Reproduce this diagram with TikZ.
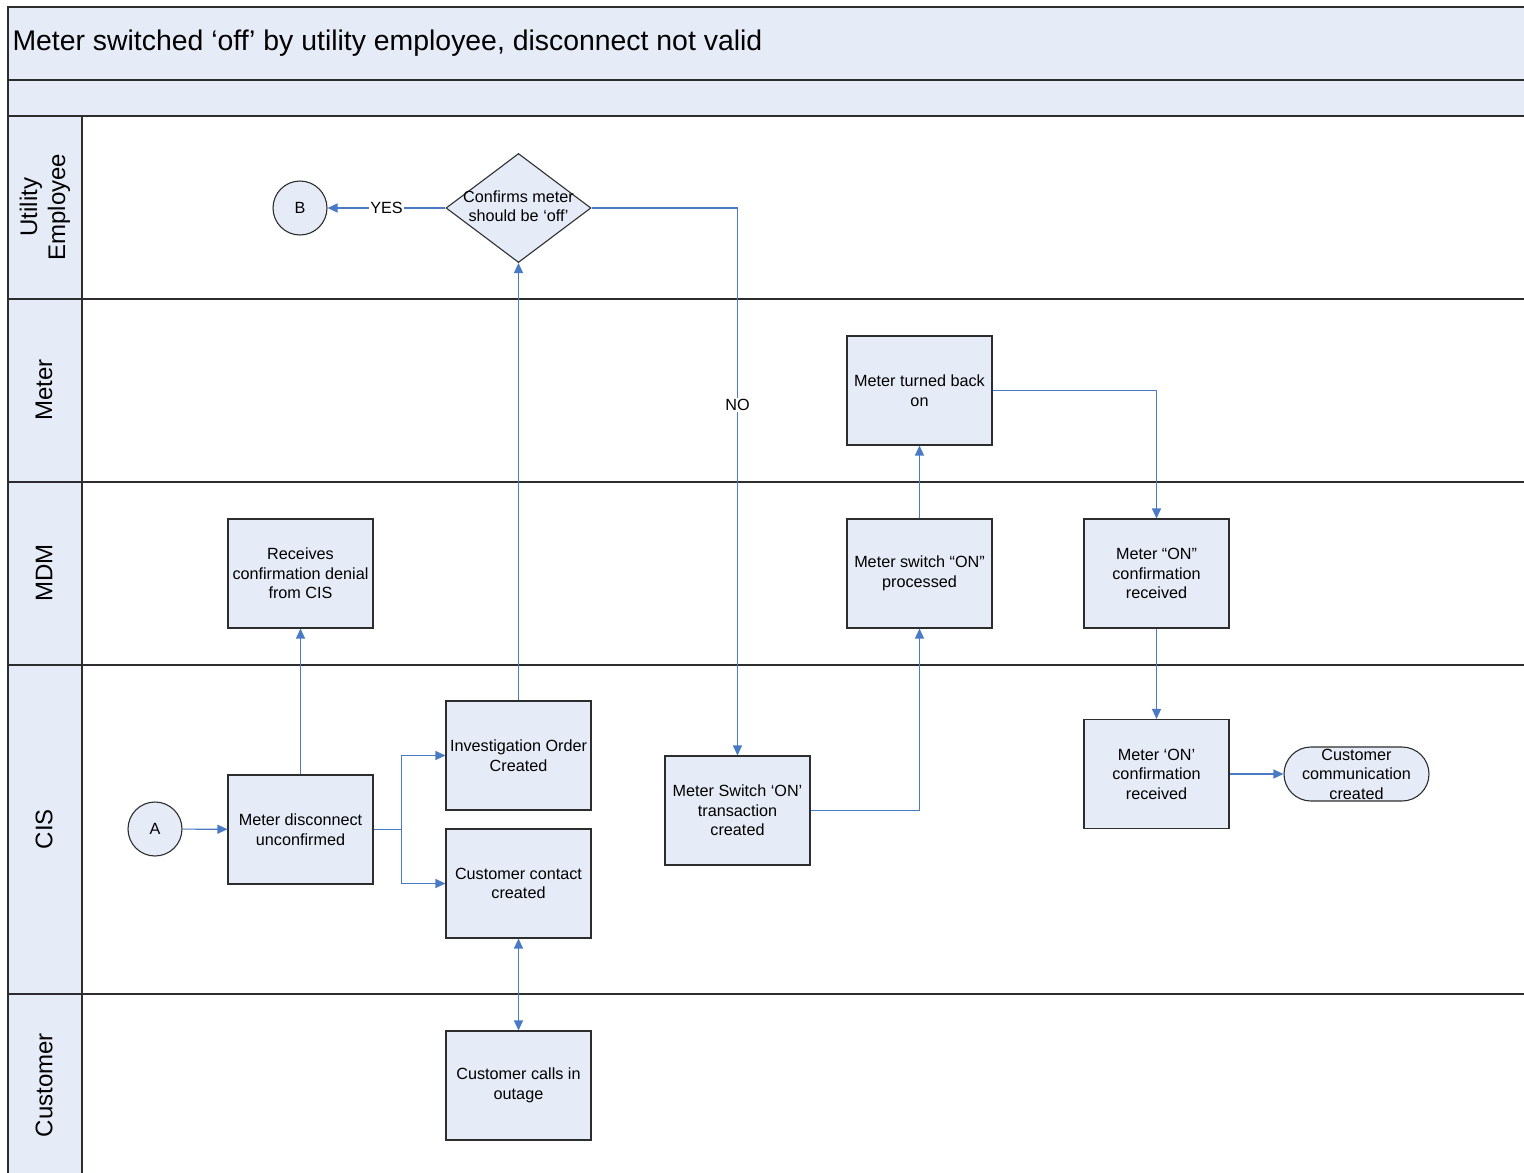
\documentclass[tikz,border=0pt]{standalone}
\usepackage{fontspec}
\setmainfont{Liberation Sans}
\usetikzlibrary{arrows.meta,shapes.geometric}
\definecolor{lanefill}{RGB}{230,236,247}
\definecolor{flowblue}{RGB}{74,122,198}
\definecolor{rulegray}{RGB}{45,45,45}
\begin{document}
\begin{tikzpicture}[x=1pt,y=-1pt,
  boxtext/.style={font=\fontsize{16.2}{19.5}\selectfont},
  proc/.style={boxtext, draw=rulegray, fill=lanefill, line width=1.1pt,
    minimum width=145pt, minimum height=109pt, align=center, inner sep=1pt},
  decision/.style={shape=diamond, draw=rulegray, fill=lanefill, line width=1.1pt,
    minimum width=145pt, minimum height=109pt, inner sep=0pt},
  terminator/.style={boxtext, draw=rulegray, fill=lanefill, line width=1.1pt,
    rounded corners=27pt, minimum width=145pt, minimum height=54pt,
    align=center, inner sep=0pt},
  connector/.style={boxtext, shape=circle, draw=rulegray, fill=lanefill,
    line width=1.1pt, minimum size=54pt, inner sep=0pt},
  lanelabel/.style={font=\fontsize{24}{28}\selectfont, rotate=90, align=center},
  flow/.style={draw=flowblue, line width=1.2pt, -{Triangle[length=10pt,width=9pt]}},
  twoway/.style={draw=flowblue, line width=1.2pt,
    {Triangle[length=10pt,width=9pt]}-{Triangle[length=10pt,width=9pt]}},
  flowlabel/.style={boxtext, fill=white, inner sep=1pt},
  lanerule/.style={draw=rulegray, line width=1.6pt}
]
\useasboundingbox (0,0) rectangle (1524,1173);

% header bars and label column
\fill[lanefill] (8,7) rectangle (1524,116);
\fill[lanefill] (8,116) rectangle (82,1173);
\draw[lanerule] (1524,7) -- (8,7) -- (8,1173);
\draw[lanerule] (8,80) -- (1524,80);
\draw[lanerule] (8,116) -- (1524,116);
\draw[lanerule] (82,116) -- (82,1173);
\foreach \yy in {299,482,665,994} \draw[lanerule] (8,\yy) -- (1524,\yy);

\node[anchor=west, font=\fontsize{28.4}{33}\selectfont] (title) at (9,43)
  {Meter switched ‘off’ by utility employee, disconnect not valid};

% lane names
\node[lanelabel] (lUtil) at (45,207) {Utility\\Employee};
\node[lanelabel] (lMeter) at (44,390) {Meter};
\node[lanelabel] (lMDM) at (44,573) {MDM};
\node[lanelabel] (lCIS) at (44,829) {CIS};
\node[lanelabel] (lCust) at (44,1085) {Customer};

% utility employee lane
\node[connector] (B) at (300,208) {B};
\node[decision] (dec) at (518.5,208) {};
\node[boxtext, align=center, inner sep=0pt] (decText) at (518.5,206)
  {Confirms meter\\should be ‘off’};

% meter lane
\node[proc] (mtb) at (919.5,390.5) {Meter turned back\\on};

% MDM lane
\node[proc] (rcd) at (300.5,573.5) {Receives\\confirmation denial\\from CIS};
\node[proc] (msp) at (919.5,573.5) {Meter switch “ON”\\processed};
\node[proc] (moc) at (1156.5,573.5) {Meter “ON”\\confirmation\\received};

% CIS lane
\node[connector] (A) at (155,829) {A};
\node[proc] (mdu) at (300.5,829.5) {Meter disconnect\\unconfirmed};
\node[proc] (inv) at (518.5,755.5) {Investigation Order\\Created};
\node[proc] (ccc) at (518.5,883.5) {Customer contact\\created};
\node[proc] (mst) at (737.5,810.5) {Meter Switch ‘ON’\\transaction\\created};
\node[proc] (mocc) at (1156.5,774) {Meter ‘ON’\\confirmation\\received};
\node[terminator] (ccm) at (1356.5,774) {Customer\\communication\\created};

% customer lane
\node[proc] (cco) at (518.5,1085.5) {Customer calls in\\outage};

% connectors
\draw[flow] (A) -- (mdu);
\draw[flow] (mdu.north) -- (rcd.south);
\draw[flow] (mdu.east) -- ++(28,0) |- (inv.west);
\draw[flow] (mdu.east) -- ++(28,0) |- (ccc.west);
\draw[flow] (inv.north) -- (dec.south);
\draw[flow] (dec.west) -- node[flowlabel] (yes) {YES} (B.east);
\draw[flow] (dec.east) -| node[flowlabel, pos=0.68] (no) {NO} (mst.north);
\draw[flow] (mst.east) -| (msp.south);
\draw[flow] (msp.north) -- (mtb.south);
\draw[flow] (mtb.east) -| (moc.north);
\draw[flow] (moc.south) -- (mocc.north);
\draw[flow] (mocc.east) -- (ccm.west);
\draw[twoway] (ccc.south) -- (cco.north);
\end{tikzpicture}
\end{document}
